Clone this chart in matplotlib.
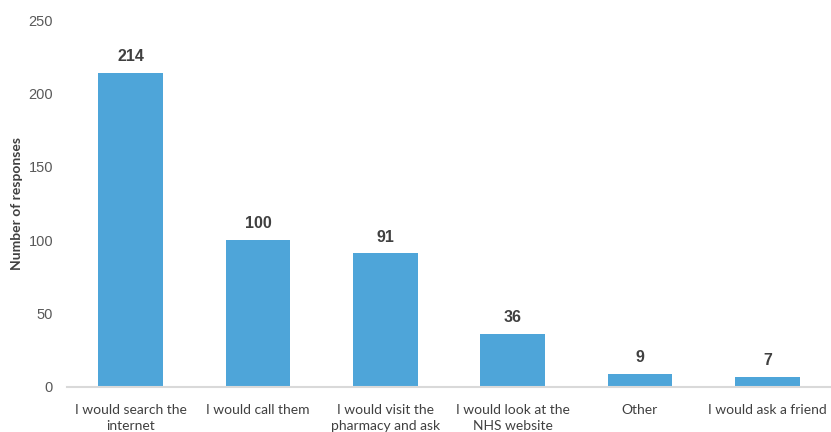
import matplotlib
matplotlib.use('Agg')
import matplotlib.pyplot as plt

categories = ['I would search the\ninternet', 'I would call them', 'I would visit the\npharmacy and ask',
              'I would look at the\nNHS website', 'Other', 'I would ask a friend']
counts = [214, 100, 91, 36, 9, 7]

bar_color = '#4EA5D9'

fig = plt.figure(figsize=(8.31, 4.32), dpi=100)
ax = fig.add_axes([0.0806, 0.1042, 0.9194, 0.8495])

x = range(len(categories))
bars = ax.bar(x, counts, width=0.51, color=bar_color)

for xi, v in zip(x, counts):
    ax.text(xi, v + 6, str(v), ha='center', va='bottom', fontsize=11.5, fontweight='bold',
            color='#404040', family='Liberation Sans')

ax.set_xlim(-0.5, len(categories) - 0.5)
ax.set_ylim(0, 250)
ax.set_yticks([0, 50, 100, 150, 200, 250])
ax.set_xticks(list(x))
ax.set_xticklabels(categories, fontsize=10, color='#404040', family='Lato', linespacing=1.45)
for lbl in ax.get_yticklabels():
    lbl.set_fontsize(10.5)
    lbl.set_color('#595959')
    lbl.set_family('Liberation Sans')
ax.tick_params(axis='both', length=0)
ax.tick_params(axis='x', pad=12)
ax.tick_params(axis='y', pad=10)

for s in ['top', 'right', 'left']:
    ax.spines[s].set_visible(False)
ax.spines['bottom'].set_color('#D9D9D9')
ax.spines['bottom'].set_linewidth(1.5)

ax.set_ylabel('Number of responses', fontsize=10, fontweight='bold', color='#404040', family='Lato', labelpad=4)

fig.savefig('out.png', dpi=100)
